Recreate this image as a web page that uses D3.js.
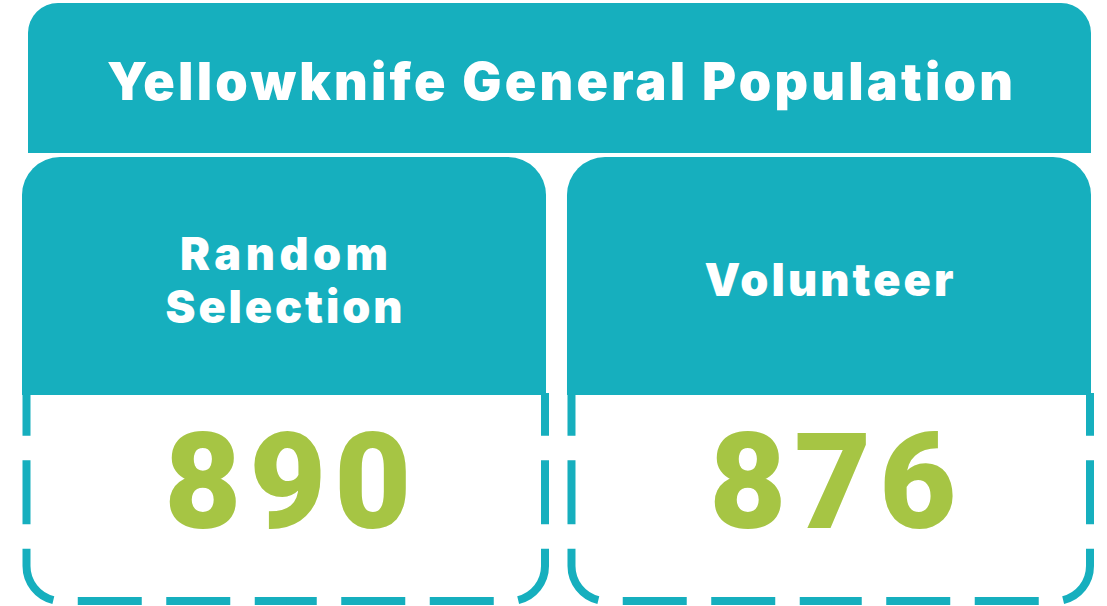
<!DOCTYPE html>
<html>
<head>
<meta charset="utf-8">
<script src="https://cdn.jsdelivr.net/npm/d3@7"></script>
<style>
  html, body { margin: 0; padding: 0; background: #ffffff; }
  svg { display: block; }
</style>
</head>
<body>
<svg id="chart" width="1107" height="606"></svg>
<script>
// ---- data ----
const title = "Yellowknife General Population";
const categories = ["Random Selection", "Volunteer"];
const labelLines = [["Random", "Selection"], ["Volunteer"]];
const counts = [890, 876];

// ---- style ----
const TEAL = "#16AFBE";
const GREEN = "#A6C544";
const FONT = "Inter, 'Liberation Sans', Arial, sans-serif";
const NUM_FONT = "Roboto, 'Liberation Sans', Arial, sans-serif";

const svg = d3.select("#chart");

// band scale positions the two category boxes
const x = d3.scaleBand().domain(categories).range([22, 1091]).paddingInner(0.0385).paddingOuter(0);

function topRounded(x0, y0, w, h, r) {
  const p = d3.path();
  p.moveTo(x0, y0 + h);
  p.lineTo(x0, y0 + r);
  p.arcTo(x0, y0, x0 + r, y0, r);
  p.lineTo(x0 + w - r, y0);
  p.arcTo(x0 + w, y0, x0 + w, y0 + r, r);
  p.lineTo(x0 + w, y0 + h);
  p.closePath();
  return p.toString();
}

// text with letter-spacing fitted to a target width, centred on cx
function addText(g, str, cx, baseline, size, fill, targetW, family) {
  const t = g.append("text")
    .attr("y", baseline)
    .attr("text-anchor", "start")
    .attr("font-family", family || FONT)
    .attr("font-weight", 900)
    .attr("font-size", size)
    .attr("fill", fill)
    .text(str);
  const w0 = t.node().getComputedTextLength();
  const n = str.length;
  const ls = n > 1 ? (targetW - w0) / (n - 1) : 0;
  t.attr("letter-spacing", ls).attr("x", cx - targetW / 2);
}

// banner
svg.append("path")
  .attr("d", topRounded(28, 3, 1063, 150, 30))
  .attr("fill", TEAL);
addText(svg, title, 560, 100, 52, "#ffffff", 906);

// boxes
const yTop = 157, yMid = 395, yBot = 601, rTop = 38, rBot = 35;
const labelW = { "Random": 208, "Selection": 237, "Volunteer": 249 };
const boxes = svg.selectAll("g.box").data(categories).join("g").attr("class", "box");

boxes.each(function(cat, i) {
  const g = d3.select(this);
  const bx = x(cat), bw = x.bandwidth();
  const x0 = bx + 4.5, x1 = bx + bw - 1;
  const cx = (x0 + x1) / 2;

  // dashed lower outline: two halves starting at bottom centre
  const right = d3.path();
  right.moveTo(cx - 0.5, yBot);
  right.lineTo(x1 - rBot, yBot);
  right.arcTo(x1, yBot, x1, yBot - rBot, rBot);
  right.lineTo(x1, yMid - 2);
  const left = d3.path();
  left.moveTo(cx + 0.5, yBot);
  left.lineTo(x0 + rBot, yBot);
  left.arcTo(x0, yBot, x0, yBot - rBot, rBot);
  left.lineTo(x0, yMid - 2);

  [right, left].forEach(p => {
    g.append("path")
      .attr("d", p.toString())
      .attr("fill", "none")
      .attr("stroke", TEAL)
      .attr("stroke-width", 8)
      .attr("stroke-dasharray", "64 24.5")
      .attr("stroke-dashoffset", 32.5);
  });

  // teal header
  g.append("path")
    .attr("d", topRounded(bx, yTop, bw, yMid - yTop, rTop))
    .attr("fill", TEAL);

  // header label
  const lines = labelLines[i];
  const size = 45, lh = 52.4, capH = 32.7, centerY = 280;
  lines.forEach((ln, j) => {
    const base = centerY + capH / 2 + (j - (lines.length - 1) / 2) * lh;
    addText(g, ln, bx + bw / 2, base, size, "#ffffff", labelW[ln] || 240);
  });

  // value
  addText(g, d3.format("d")(counts[i]), cx + 2, 528, 133, GREEN, 247, NUM_FONT);
});
</script>
</body>
</html>
